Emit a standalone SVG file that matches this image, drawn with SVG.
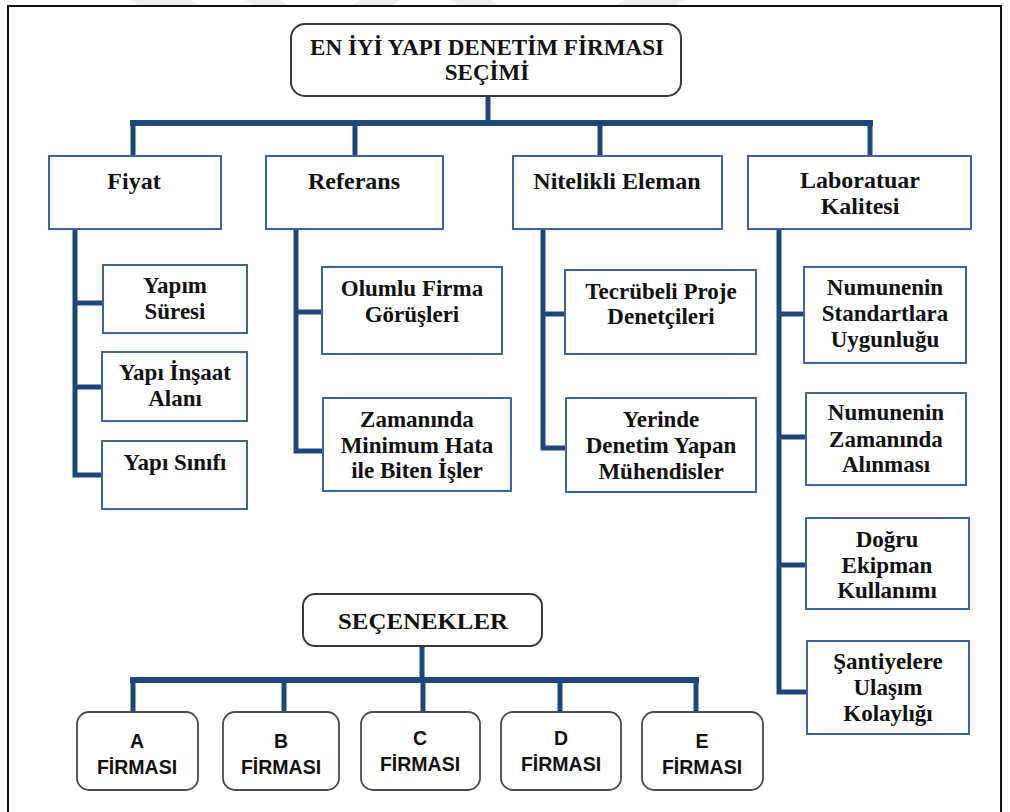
<svg xmlns="http://www.w3.org/2000/svg" width="1010" height="812" viewBox="0 0 1010 812">
  <style>
    .frame { fill: #ffffff; stroke: #111111; stroke-width: 2; }
    .root { fill: #ffffff; stroke: #3a3a3a; stroke-width: 2; }
    .opt { fill: #ffffff; stroke: #4a4a4a; stroke-width: 1.8; }
    .box { fill: #ffffff; stroke: #3f649b; stroke-width: 2; }
    .wire { fill: none; stroke: #1f477c; stroke-width: 5; stroke-linecap: square; stroke-linejoin: miter; }
    .bar { fill: none; stroke: #1f477c; stroke-width: 6; stroke-linecap: square; }
    .t { font-family: "Liberation Serif", "Times New Roman", serif; font-weight: bold; fill: #111111; text-anchor: middle; }
    .h1 { font-size: 23px; }
    .h2 { font-size: 24px; }
    .h3 { font-size: 23px; }
    .s { font-family: "Liberation Sans", Arial, sans-serif; font-weight: bold; font-size: 19.5px; fill: #111111; text-anchor: middle; }
    .wm { fill: #efefef; }
  </style>

  <rect x="0" y="0" width="1010" height="812" fill="#ffffff"/>

  <!-- faint background stripes along the top edge -->
  <g id="background">
    <polygon class="wm" points="130,0 190,0 200,6 140,6"/>
    <polygon class="wm" points="245,0 280,0 290,6 255,6"/>
    <polygon class="wm" points="360,0 400,0 392,6 352,6"/>
    <polygon class="wm" points="450,0 490,0 500,6 460,6"/>
    <polygon class="wm" points="625,0 685,0 675,6 615,6"/>
  </g>

  <rect class="frame" x="8" y="6" width="993" height="820"/>

  <!-- connectors -->
  <g id="connectors">
    <!-- root to criteria -->
    <path class="wire" d="M488,96 V123"/>
    <path class="bar" d="M133,123 H870"/>
    <path class="wire" d="M133,123 V156 M355,123 V156 M600,123 V156 M870,123 V156"/>
    <!-- Fiyat -->
    <path class="wire" d="M75,229 V475 H102 M75,303 H103 M75,387 H102"/>
    <!-- Referans -->
    <path class="wire" d="M296,229 V451 H323 M296,312 H322"/>
    <!-- Nitelikli Eleman -->
    <path class="wire" d="M543,229 V448 H566 M543,314 H565"/>
    <!-- Laboratuar Kalitesi -->
    <path class="wire" d="M779,229 V692 H807 M779,314 H804 M779,437 H806 M779,565 H806"/>
    <!-- options -->
    <path class="wire" d="M422,646 V680"/>
    <path class="bar" d="M133,680 H696"/>
    <path class="wire" d="M133,680 V712 M284,680 V712 M423,680 V712 M560,680 V712 M696,680 V712"/>
  </g>

  <!-- root -->
  <g id="root">
    <rect class="root" x="291" y="24" width="390" height="72" rx="14"/>
    <text class="t h1" x="487" y="55" textLength="354" lengthAdjust="spacingAndGlyphs">EN İYİ YAPI DENETİM FİRMASI</text>
    <text class="t h1" x="487" y="80">SEÇİMİ</text>
  </g>

  <!-- criteria -->
  <g id="fiyat">
    <rect class="box" x="49" y="156" width="172" height="73"/>
    <text class="t h2" x="134" y="189">Fiyat</text>
  </g>
  <g id="referans">
    <rect class="box" x="266" y="156" width="177" height="73"/>
    <text class="t h2" x="354" y="189">Referans</text>
  </g>
  <g id="nitelikli-eleman">
    <rect class="box" x="513" y="156" width="209" height="73"/>
    <text class="t h2" x="617" y="189">Nitelikli Eleman</text>
  </g>
  <g id="laboratuar-kalitesi">
    <rect class="box" x="748" y="156" width="223" height="73"/>
    <text class="t h2" x="860" y="188">Laboratuar</text>
    <text class="t h2" x="860" y="214">Kalitesi</text>
  </g>

  <!-- Fiyat sub-criteria -->
  <g id="yapim-suresi">
    <rect class="box" x="103" y="265" width="144" height="68"/>
    <text class="t h3" x="175" y="293">Yapım</text>
    <text class="t h3" x="175" y="319">Süresi</text>
  </g>
  <g id="yapi-insaat-alani">
    <rect class="box" x="102" y="352" width="145" height="69"/>
    <text class="t h3" x="175" y="380">Yapı İnşaat</text>
    <text class="t h3" x="175" y="406">Alanı</text>
  </g>
  <g id="yapi-sinifi">
    <rect class="box" x="102" y="441" width="145" height="68"/>
    <text class="t h3" x="175" y="470">Yapı Sınıfı</text>
  </g>

  <!-- Referans sub-criteria -->
  <g id="olumlu-firma">
    <rect class="box" x="322" y="267" width="180" height="87"/>
    <text class="t h3" x="412" y="296">Olumlu Firma</text>
    <text class="t h3" x="412" y="322">Görüşleri</text>
  </g>
  <g id="zamaninda-isler">
    <rect class="box" x="323" y="398" width="188" height="93"/>
    <text class="t h3" x="417" y="427">Zamanında</text>
    <text class="t h3" x="417" y="453">Minimum Hata</text>
    <text class="t h3" x="417" y="478">ile Biten İşler</text>
  </g>

  <!-- Nitelikli Eleman sub-criteria -->
  <g id="tecrubeli-proje">
    <rect class="box" x="565" y="270" width="191" height="84"/>
    <text class="t h3" x="661" y="299">Tecrübeli Proje</text>
    <text class="t h3" x="661" y="324">Denetçileri</text>
  </g>
  <g id="yerinde-denetim">
    <rect class="box" x="566" y="398" width="190" height="94"/>
    <text class="t h3" x="661" y="427">Yerinde</text>
    <text class="t h3" x="661" y="453">Denetim Yapan</text>
    <text class="t h3" x="661" y="479">Mühendisler</text>
  </g>

  <!-- Laboratuar Kalitesi sub-criteria -->
  <g id="numune-standart">
    <rect class="box" x="804" y="267" width="162" height="96"/>
    <text class="t h3" x="885" y="295">Numunenin</text>
    <text class="t h3" x="885" y="321">Standartlara</text>
    <text class="t h3" x="885" y="347">Uygunluğu</text>
  </g>
  <g id="numune-zaman">
    <rect class="box" x="806" y="393" width="160" height="92"/>
    <text class="t h3" x="886" y="420">Numunenin</text>
    <text class="t h3" x="886" y="447">Zamanında</text>
    <text class="t h3" x="886" y="472">Alınması</text>
  </g>
  <g id="dogru-ekipman">
    <rect class="box" x="806" y="518" width="163" height="91"/>
    <text class="t h3" x="887" y="547">Doğru</text>
    <text class="t h3" x="887" y="573">Ekipman</text>
    <text class="t h3" x="887" y="598">Kullanımı</text>
  </g>
  <g id="santiye-ulasim">
    <rect class="box" x="807" y="641" width="162" height="93"/>
    <text class="t h3" x="888" y="669">Şantiyelere</text>
    <text class="t h3" x="888" y="695">Ulaşım</text>
    <text class="t h3" x="888" y="721">Kolaylığı</text>
  </g>

  <!-- options -->
  <g id="secenekler">
    <rect class="root" x="303" y="594" width="239" height="52" rx="12"/>
    <text class="t" x="423" y="629" font-size="24" textLength="170" lengthAdjust="spacingAndGlyphs">SEÇENEKLER</text>
  </g>
  <g id="a-firmasi">
    <rect class="opt" x="77" y="712" width="121" height="78" rx="12"/>
    <text class="s" x="137" y="748">A</text>
    <text class="s" x="137" y="774">FİRMASI</text>
  </g>
  <g id="b-firmasi">
    <rect class="opt" x="223" y="712" width="116" height="78" rx="12"/>
    <text class="s" x="281" y="748">B</text>
    <text class="s" x="281" y="774">FİRMASI</text>
  </g>
  <g id="c-firmasi">
    <rect class="opt" x="361" y="712" width="119" height="78" rx="12"/>
    <text class="s" x="420" y="745">C</text>
    <text class="s" x="420" y="771">FİRMASI</text>
  </g>
  <g id="d-firmasi">
    <rect class="opt" x="501" y="712" width="120" height="78" rx="12"/>
    <text class="s" x="561" y="745">D</text>
    <text class="s" x="561" y="771">FİRMASI</text>
  </g>
  <g id="e-firmasi">
    <rect class="opt" x="642" y="712" width="121" height="78" rx="12"/>
    <text class="s" x="702" y="748">E</text>
    <text class="s" x="702" y="774">FİRMASI</text>
  </g>
</svg>
